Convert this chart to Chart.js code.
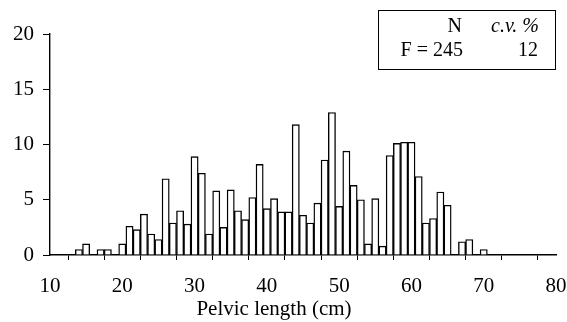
<!DOCTYPE html>
<html>
<head>
<meta charset="utf-8">
<script src="https://cdn.jsdelivr.net/npm/chart.js@4"></script>
<style>
  html, body { margin: 0; padding: 0; background: #fff; }
  #wrap { width: 567px; height: 322px; position: relative; }
</style>
</head>
<body>
<div id="wrap"><canvas id="c" width="567" height="322"></canvas></div>
<script>
// pelvic length bins (cm, 1 cm wide, centred)
const lengths = [14, 15, 16, 17, 18, 19, 20, 21, 22, 23, 24, 25, 26, 27, 28, 29, 30, 31, 32, 33, 34, 35, 36, 37, 38, 39, 40, 41, 42,
  43, 44, 45, 46, 47, 48, 49, 50, 51, 52, 53, 54, 55, 56, 57, 58, 59, 60, 61, 62, 63, 64, 65, 66, 67, 68, 69, 70];
// frequencies (null = empty bin)
const freq = [0.5, 1.0, null, 0.5, 0.5, null, 1.0, 2.6, 2.3, 3.7, 1.9, 1.4, 6.9, 2.9, 4.0, 2.8, 8.9, 7.4, 1.9, 5.8, 2.5, 5.9, 4.0, 3.2, 5.2, 8.2, 4.2, 5.1, 3.9,
  3.9, 11.8, 3.6, 2.9, 4.7, 8.6, 12.9, 4.4, 9.4, 6.3, 5.0, 1.0, 5.1, 0.8, 9.0, 10.1, 10.2, 10.2, 7.1, 2.9, 3.3, 5.7, 4.5, null, 1.2, 1.4, null, 0.5];
const legendHead = ['N', 'c.v. %'];
const legendRow = ['F = 245', '12'];
const xTitle = 'Pelvic length (cm)';

const serif = '"Liberation Serif", "DejaVu Serif", serif';

// N / c.v. box in the top right corner, and the x axis title
const extras = {
  id: 'extras',
  afterDraw(chart) {
    const ctx = chart.ctx;
    ctx.save();
    ctx.strokeStyle = '#000';
    ctx.lineWidth = 1;
    ctx.strokeRect(378.5, 10.5, 177, 59);
    ctx.fillStyle = '#000';
    ctx.textBaseline = 'alphabetic';
    ctx.textAlign = 'right';
    ctx.font = '20px ' + serif;
    ctx.fillText(legendHead[0], 462, 32);
    ctx.font = 'italic 20px ' + serif;
    ctx.fillText(legendHead[1], 539, 32);
    ctx.font = '20px ' + serif;
    ctx.fillText(legendRow[0], 463, 56);
    ctx.fillText(legendRow[1], 538, 56);

    ctx.textAlign = 'center';
    ctx.font = '21px ' + serif;
    ctx.fillText(xTitle, 274, 315);
    ctx.restore();
  }
};

new Chart(document.getElementById('c'), {
  type: 'bar',
  data: {
    datasets: [{
      data: lengths.map((x, i) => ({x: x, y: freq[i]})),
      backgroundColor: '#fff',
      borderColor: '#000',
      borderWidth: 1.4,
      barPercentage: 1,
      categoryPercentage: 1
    }]
  },
  options: {
    responsive: false,
    animation: false,
    events: [],
    layout: {padding: {top: 34, right: 0, left: 0, bottom: 0}},
    plugins: {legend: {display: false}, tooltip: {enabled: false}},
    scales: {
      x: {
        type: 'linear',
        min: 10,
        max: 80,
        offset: false,
        afterFit(s) {
          s.height = 67;
          s.paddingLeft = 0;
          s.paddingRight = 11;
        },
        ticks: {
          stepSize: 5,
          autoSkip: false,
          maxRotation: 0,
          color: '#000',
          padding: 14,
          font: {family: serif, size: 21},
          callback: v => (v % 10 === 0 ? String(v) : '')
        },
        grid: {drawOnChartArea: false, drawTicks: true, tickLength: 5, color: '#000'},
        border: {display: true, color: '#000', width: 1.4},
        title: {display: false}
      },
      y: {
        min: 0,
        max: 20,
        afterFit(s) { s.width = 50; },
        ticks: {
          stepSize: 5,
          color: '#000',
          padding: 9,
          font: {family: serif, size: 21}
        },
        grid: {drawOnChartArea: false, drawTicks: true, tickLength: 7, color: '#000'},
        border: {display: true, color: '#000', width: 1.4}
      }
    }
  },
  plugins: [extras]
});
</script>
</body>
</html>
